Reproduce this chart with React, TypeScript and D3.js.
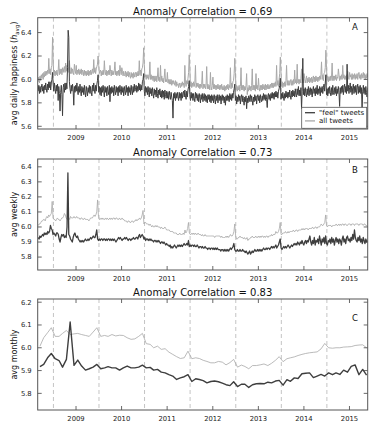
import React from "react";
import * as d3 from "d3";

// ---------------- DATA ----------------
// daily series, one value every 5 days starting 2008-09-01
const dailyFeel = [
  5.90,5.95,5.88,5.94,5.89,5.93, 5.96,5.90,5.94,5.88,5.95,5.91, 5.97,5.92,5.89,5.96,5.91,5.98, 5.93,5.98,5.91,5.97,6.00,6.06,
  5.96,5.90,5.97,5.92,5.88,5.95, 5.90,5.96,5.82,5.94,5.88,5.73, 5.89,5.95,5.87,5.69,5.93,5.96, 5.89,5.97,5.91,5.97,5.92,6.10,
  6.42,6.36,5.98,5.92,5.88,5.95, 5.90,5.96,5.91,5.78,5.94,5.89, 5.95,5.90,5.97,5.91,5.87,5.94, 5.89,5.96,5.90,5.86,5.94,5.89,
  5.93,5.87,5.95,5.89,5.85,5.94, 5.90,5.86,5.93,5.89,5.95,5.88, 5.94,5.89,5.86,5.95,5.90,5.97, 5.91,5.88,5.95,5.90,5.96,5.99,6.04,
  5.89,5.94,5.87,5.93,5.86,5.94, 5.89,5.95,5.90,5.85,5.94,5.89, 5.93,5.86,5.94,5.90,5.87,5.95, 5.81,5.93,5.88,5.94,5.89,5.93,
  5.86,5.95,5.90,5.87,5.94,5.89, 5.93,5.86,5.94,5.89,5.95,5.90, 5.87,5.94,5.89,5.93,5.86,5.94, 5.90,5.87,5.95,5.89,5.93,5.86,
  5.94,5.89,5.93,5.87,5.95,5.90, 5.87,5.94,5.89,5.96,5.90,5.93, 5.95,5.89,5.94,5.90,5.97,5.91, 5.96,5.90,5.95,5.91,5.98,6.00,6.05,
  5.90,5.86,5.94,5.89,5.93,5.87, 5.94,5.89,5.85,5.93,5.88,5.92, 5.86,5.93,5.88,5.84,5.92,5.87, 5.91,5.85,5.93,5.88,5.84,5.91,
  5.87,5.92,5.85,5.90,5.84,5.91, 5.85,5.90,5.83,5.91,5.87,5.84, 5.90,5.84,5.89,5.83,5.90,5.86, 5.83,5.89,5.85,5.82,5.67,5.88,
  5.84,5.89,5.82,5.88,5.84,5.89, 5.85,5.82,5.89,5.84,5.88,5.82, 5.89,5.84,5.88,5.90,5.85,5.91, 5.86,5.83,5.90,5.85,5.91,5.94,5.99,
  5.87,5.82,5.89,5.84,5.88,5.82, 5.88,5.84,5.81,5.89,5.84,5.88, 5.82,5.87,5.81,5.88,5.84,5.80, 5.87,5.83,5.88,5.81,5.85,5.88,
  5.82,5.87,5.81,5.86,5.80,5.87, 5.83,5.87,5.81,5.86,5.80,5.87, 5.82,5.86,5.80,5.87,5.83,5.79, 5.86,5.82,5.87,5.80,5.84,5.87,
  5.82,5.86,5.79,5.85,5.87,5.82, 5.86,5.80,5.85,5.78,5.86,5.82, 5.87,5.82,5.86,5.81,5.88,5.83, 5.87,5.82,5.88,5.84,5.89,5.92,5.96,
  5.82,5.86,5.79,5.85,5.81,5.87, 5.82,5.86,5.79,5.85,5.87,5.81, 5.86,5.82,5.78,5.85,5.81,5.86, 5.75,5.84,5.80,5.86,5.81,5.85,
  5.87,5.81,5.86,5.82,5.78,5.85, 5.81,5.87,5.82,5.86,5.79,5.85, 5.87,5.82,5.86,5.80,5.87,5.83, 5.81,5.86,5.82,5.88,5.83,5.87,
  5.82,5.87,5.83,5.76,5.86,5.88, 5.83,5.87,5.82,5.88,5.84,5.89, 5.84,5.88,5.83,5.89,5.85,5.90, 5.85,5.89,5.84,5.90,5.92,5.95,6.01,
  5.83,5.88,5.84,5.89,5.85,5.82, 5.88,5.84,5.90,5.85,5.89,5.84, 5.89,5.85,5.91,5.86,5.83,5.90, 5.85,5.91,5.86,5.90,5.85,5.92,
  5.87,5.85,5.92,5.87,5.94,5.86, 5.91,5.86,5.93,5.75,5.90,6.18, 5.87,5.92,5.86,5.93,5.88,5.85, 5.92,5.87,5.94,5.86,5.91,5.93,
  5.87,5.92,5.85,5.91,5.94,5.88, 5.92,5.86,5.93,5.88,5.95,5.87, 5.92,5.88,5.94,5.86,5.93,5.89, 5.94,5.88,5.93,5.96,5.90,5.97,6.04,
  5.87,5.92,5.86,5.93,5.88,5.94, 5.89,5.86,5.93,5.87,5.95,5.89, 5.87,5.93,5.88,5.94,5.86,5.92, 5.88,5.94,5.89,5.77,5.93,5.88,
  5.94,5.89,5.95,5.87,5.93,5.96, 5.89,5.94,5.88,6.13,5.90,5.95, 5.88,5.93,5.97,5.89,5.94,5.87, 5.93,5.96,5.88,5.94,5.89,5.95,
  5.87,5.93,5.96,5.88,5.94,5.89, 5.95,5.88,5.93,5.75,5.90,5.95, 5.88,5.93,5.87,5.94,5.89,5.85,5.93,
];
const dailyAll = [
  5.98,6.02,5.97,6.03,5.99,6.04, 6.01,6.05,6.00,6.06,6.02,6.07, 6.03,6.07,6.04,6.08,6.05,6.18, 6.05,6.09,6.04,6.10,6.12,6.36,
  6.15,6.04,6.08,6.03,6.07,6.04, 6.08,6.03,6.07,6.17,6.04,6.09, 6.05,6.09,6.04,6.10,6.06,6.09, 6.11,6.06,6.14,6.07,6.12,6.08,
  6.06,6.11,6.16,6.07,6.05,6.10, 6.05,6.09,6.06,6.04,6.13,6.08, 6.05,6.12,6.04,6.08,6.05,6.09, 6.04,6.08,6.05,6.09,6.04,6.08,
  6.07,6.03,6.08,6.04,6.07,6.03, 6.07,6.04,6.08,6.03,6.07,6.04, 6.08,6.04,6.07,6.09,6.05,6.17, 6.06,6.10,6.05,6.09,6.11,6.13,6.20,
  6.12,6.05,6.07,6.08,6.03,6.07, 6.04,6.08,6.04,6.16,6.07,6.04, 6.08,6.03,6.07,6.04,6.08,6.04, 6.12,6.07,6.03,6.08,6.04,6.07,
  6.04,6.08,6.15,6.04,6.07,6.03, 6.07,6.04,6.08,6.03,6.12,6.07, 6.04,6.10,6.07,6.03,6.07,6.04, 6.03,6.07,6.02,6.06,6.03,6.07,
  6.02,6.06,6.03,6.01,6.06,6.02, 6.05,6.01,6.06,6.02,6.05,6.06, 6.02,6.06,6.03,6.07,6.03,6.16, 6.04,6.08,6.03,6.09,6.10,6.14,6.27,
  6.13,6.02,6.04,6.00,6.04,6.01, 6.04,6.00,6.03,6.15,6.00,6.04, 6.00,6.03,5.99,6.03,5.98,6.03, 5.99,6.03,5.98,6.02,6.10,5.99,
  6.02,5.98,6.12,5.99,6.03,5.98, 6.01,5.97,6.02,6.09,5.98,6.00, 5.98,6.06,5.97,6.00,5.96,6.00, 5.96,6.00,5.95,5.99,5.96,5.99,
  5.97,5.95,5.99,5.94,5.98,5.95, 5.96,5.93,5.97,5.95,5.93,5.97, 5.94,5.98,5.95,5.97,5.93,6.12, 5.97,5.94,5.99,5.96,6.01,6.06,6.21,
  6.08,5.94,5.98,5.93,5.97,5.94, 5.98,5.94,5.97,6.12,5.93,5.97, 5.94,5.97,5.93,5.96,5.92,5.96, 5.93,5.96,6.07,5.92,5.96,5.93,
  5.96,5.92,5.95,6.11,5.92,5.96, 5.92,5.95,5.91,6.06,5.94,5.91, 5.95,6.02,5.92,5.96,5.92,5.95, 5.91,5.95,5.92,5.96,5.92,5.95,
  5.91,5.95,5.92,5.96,5.91,5.94, 5.91,5.95,5.90,5.94,5.91,5.95, 5.92,5.96,5.91,5.95,5.93,6.10, 5.92,5.97,5.93,5.98,5.99,6.05,6.18,
  6.06,5.91,5.95,5.90,5.94,5.91, 5.95,5.90,5.94,6.10,5.91,5.95, 5.91,5.95,5.90,5.94,5.91,5.95, 6.05,5.87,5.93,5.90,5.95,5.91,
  5.94,5.90,5.95,6.09,5.91,5.95, 5.91,5.95,5.90,6.05,5.92,5.95, 5.91,6.01,5.93,5.90,5.95,5.91, 5.95,5.91,5.96,5.92,5.95,5.91,
  5.96,5.91,5.95,5.92,5.96,5.92, 5.95,5.92,5.96,5.93,5.97,5.93, 5.97,5.93,5.97,5.94,5.98,5.94, 6.12,5.95,5.99,5.94,6.00,6.05,6.19,
  6.07,5.94,5.98,5.93,5.97,5.94, 5.98,5.94,5.99,6.12,5.95,5.99, 5.95,5.99,5.95,5.98,6.00,5.95, 5.99,5.95,6.00,5.96,6.08,5.97,
  6.00,5.96,6.13,5.97,6.00,5.96, 6.00,5.97,6.01,6.09,5.97,6.00, 5.97,6.05,6.01,5.97,6.00,6.03, 5.97,6.01,5.98,6.02,5.97,6.01,
  5.98,6.02,5.97,6.01,6.03,5.98, 6.02,5.98,6.03,5.99,6.02,5.98, 6.02,5.99,6.03,6.00,6.04,6.15, 6.00,6.04,5.99,6.05,6.06,6.10,6.25,
  6.10,5.99,6.03,5.98,6.02,5.99, 6.03,5.99,6.02,6.14,5.99,6.03, 5.99,6.03,6.00,6.04,5.99,6.02, 6.01,6.09,6.04,5.99,6.03,6.00,
  6.04,6.00,6.12,6.01,6.04,6.00, 6.03,6.00,6.04,5.99,6.07,6.02, 6.00,6.06,6.02,6.04,6.00,6.05, 6.00,6.04,6.01,6.05,6.00,6.04,
  6.01,6.05,6.00,6.04,6.06,6.01, 6.04,6.00,6.05,6.01,6.04,6.06, 6.01,6.05,6.00,6.04,6.01,6.05,6.02,
];
// weekly series, starting 2008-09-01
const weeklyFeel = [
  5.93,5.92,5.94,5.93, 5.94,5.95,5.94,5.96,5.95, 5.96,5.95,5.97,5.96, 5.97,6.01,5.99,5.98,
  5.95,5.96,5.95,5.94,5.96, 5.96,5.95,5.92,5.90, 5.93,5.95,5.94,5.95, 5.93,5.94,5.93,6.00,6.36, 5.95,5.94,5.92,5.91,
  5.90,5.93,5.95,5.96, 5.94,5.93,5.94,5.92,5.91, 5.90,5.91,5.90,5.91, 5.90,5.91,5.92,5.91, 5.91,5.92,5.91,5.92,5.93,
  5.92,5.93,5.94,5.93, 5.93,5.95,5.98,5.92,
  5.91,5.92,5.91,5.92,5.92, 5.91,5.92,5.92,5.91, 5.92,5.91,5.92,5.92, 5.91,5.92,5.91,5.92,5.91, 5.92,5.91,5.90,5.91,
  5.92,5.93,5.92,5.93, 5.92,5.91,5.92,5.92,5.93, 5.92,5.93,5.92,5.91, 5.92,5.92,5.91,5.92, 5.92,5.93,5.92,5.92,5.93,
  5.93,5.92,5.94,5.95, 5.93,5.94,5.95,5.94,
  5.92,5.93,5.91,5.92,5.92, 5.91,5.92,5.91,5.92, 5.91,5.91,5.90,5.91, 5.91,5.90,5.91,5.90,5.91, 5.90,5.89,5.90,5.90,
  5.89,5.90,5.89,5.88, 5.89,5.88,5.88,5.87,5.88, 5.86,5.87,5.86,5.87, 5.88,5.87,5.86,5.87, 5.88,5.87,5.88,5.87,5.88,
  5.87,5.88,5.89,5.88, 5.88,5.89,5.88,5.91,
  5.87,5.88,5.87,5.88,5.88, 5.87,5.88,5.87,5.87, 5.88,5.87,5.86,5.87, 5.87,5.86,5.87,5.86,5.86, 5.87,5.86,5.86,5.85,
  5.86,5.86,5.85,5.86, 5.86,5.85,5.86,5.85,5.86, 5.85,5.86,5.85,5.85, 5.85,5.84,5.85,5.85, 5.84,5.85,5.84,5.85,5.84,
  5.85,5.84,5.85,5.86, 5.85,5.86,5.87,5.89,5.85,
  5.84,5.84,5.85,5.84, 5.84,5.85,5.84,5.84, 5.85,5.84,5.84,5.83, 5.84,5.83,5.82,5.83,5.84, 5.82,5.83,5.84,5.83,
  5.84,5.85,5.84,5.84, 5.85,5.84,5.85,5.84,5.85, 5.84,5.85,5.86,5.85, 5.85,5.86,5.85,5.86, 5.86,5.85,5.86,5.87,5.86,
  5.87,5.86,5.87,5.88, 5.86,5.87,5.88,5.90,5.92,
  5.86,5.85,5.86,5.87, 5.86,5.87,5.86,5.87, 5.88,5.87,5.86,5.87, 5.88,5.87,5.88,5.89,5.88, 5.89,5.88,5.90,5.89,
  5.88,5.90,5.89,5.91, 5.89,5.88,5.90,5.91,5.89, 5.91,5.90,5.92,5.94, 5.90,5.88,5.91,5.89, 5.93,5.88,5.91,5.90,5.92,
  5.89,5.94,5.91,5.88, 5.92,5.90,5.93,5.89,5.94,
  5.89,5.88,5.91,5.90,5.92, 5.89,5.93,5.90,5.92, 5.88,5.91,5.93,5.90, 5.92,5.89,5.92,5.91,5.88, 5.92,5.94,5.90,5.92,
  5.89,5.93,5.94,5.91, 5.92,5.90,5.93,5.91,5.95, 5.92,5.98,5.93,5.91, 5.90,5.93,5.91,5.94, 5.90,5.92,5.89,5.93,5.91,
  5.89,5.92,5.90,5.91,
];
const weeklyAll = [
  6.01,6.02,6.02,6.03, 6.04,6.04,6.05,6.05,6.04, 6.06,6.07,6.06,6.08, 6.07,6.08,6.09,6.17,
  6.06,6.05,6.05,6.04,6.05, 6.06,6.05,6.05,6.04, 6.05,6.06,6.06,6.07, 6.09,6.08,6.06,6.05,6.05, 6.06,6.05,6.07,6.06,
  6.06,6.06,6.07,6.06, 6.06,6.07,6.06,6.06,6.06, 6.05,6.06,6.06,6.05, 6.05,6.06,6.05,6.05, 6.05,6.05,6.04,6.05,6.06,
  6.06,6.06,6.07,6.08, 6.07,6.08,6.10,6.18,
  6.07,6.05,6.05,6.06,6.05, 6.06,6.05,6.05,6.06, 6.05,6.06,6.05,6.05, 6.06,6.05,6.06,6.05,6.06, 6.06,6.05,6.06,6.06,
  6.05,6.05,6.06,6.05, 6.05,6.06,6.05,6.05,6.04, 6.04,6.04,6.03,6.04, 6.04,6.03,6.03,6.04, 6.04,6.03,6.04,6.04,6.05,
  6.04,6.05,6.05,6.06, 6.05,6.06,6.08,6.11,
  6.02,6.03,6.03,6.02,6.02, 6.02,6.01,6.02,6.01, 6.00,6.01,6.00,6.00, 6.01,6.00,6.01,6.00,6.00, 6.00,5.99,6.00,5.99,
  5.99,5.99,6.00,5.99, 5.98,5.98,5.98,5.98,5.97, 5.97,5.97,5.97,5.96, 5.96,5.96,5.96,5.95, 5.95,5.95,5.96,5.95,5.95,
  5.95,5.96,5.95,5.98, 5.96,5.97,5.99,6.03,
  5.96,5.95,5.95,5.96,5.95, 5.96,5.95,5.96,5.95, 5.95,5.96,5.95,5.95, 5.95,5.94,5.95,5.94,5.94, 5.95,5.94,5.94,5.94,
  5.94,5.94,5.94,5.94, 5.94,5.94,5.94,5.93,5.94, 5.94,5.94,5.94,5.94, 5.94,5.93,5.94,5.93, 5.93,5.93,5.93,5.94,5.93,
  5.94,5.93,5.94,5.95, 5.94,5.94,5.95,5.97,6.02,
  5.94,5.92,5.92,5.93, 5.93,5.94,5.93,5.93, 5.93,5.92,5.93,5.92, 5.92,5.93,5.91,5.92,5.92, 5.93,5.93,5.94,5.93,
  5.93,5.93,5.94,5.93, 5.93,5.94,5.93,5.94,5.93, 5.94,5.94,5.93,5.94, 5.93,5.94,5.94,5.93, 5.94,5.94,5.94,5.95,5.94,
  5.95,5.95,5.95,5.97, 5.96,5.96,5.97,5.99,6.03,
  5.95,5.95,5.96,5.96, 5.96,5.97,5.96,5.96, 5.97,5.96,5.97,5.97, 5.97,5.97,5.98,5.97,5.97, 5.98,5.98,5.97,5.98,
  5.98,5.98,5.98,5.99, 5.98,5.99,5.98,5.99,5.99, 5.99,5.98,5.99,5.99, 5.99,5.99,6.00,5.99, 5.99,6.00,6.00,5.99,6.00,
  6.00,6.00,6.01,6.02, 6.01,6.01,6.02,6.03,6.08,
  6.01,6.00,6.01,6.01,6.01, 6.01,6.00,6.01,6.01, 6.01,6.01,6.02,6.01, 6.01,6.02,6.01,6.02,6.01, 6.02,6.02,6.01,6.02,
  6.02,6.01,6.01,6.02, 6.02,6.02,6.01,6.02,6.02, 6.02,6.01,6.02,6.02, 6.02,6.02,6.01,6.02, 6.02,6.02,6.02,6.01,6.02,
  6.02,6.01,6.01,6.00,
];
// monthly series, Sep 2008 .. Nov 2015
const monthlyFeel = [
  5.917,5.927,5.956,5.975,
  5.952,5.944,5.915,5.949,6.113,5.923,5.946,5.920,5.902,5.908,5.915,5.927,
  5.908,5.912,5.917,5.912,5.912,5.902,5.912,5.920,5.912,5.912,5.915,5.924,
  5.912,5.914,5.902,5.905,5.893,5.890,5.882,5.876,5.861,5.868,5.873,5.882,
  5.852,5.864,5.861,5.856,5.846,5.852,5.854,5.851,5.845,5.838,5.834,5.851,
  5.830,5.840,5.840,5.826,5.838,5.842,5.843,5.842,5.849,5.846,5.854,5.857,
  5.836,5.860,5.853,5.868,5.865,5.886,5.888,5.890,5.869,5.876,5.883,5.876,
  5.890,5.882,5.890,5.883,5.902,5.893,5.918,5.925,5.882,5.905,5.880,
];
const monthlyAll = [
  6.007,6.044,6.066,6.088,
  6.050,6.050,6.063,6.076,6.058,6.061,6.063,6.058,6.054,6.050,6.069,6.088,
  6.050,6.054,6.050,6.058,6.052,6.055,6.054,6.044,6.037,6.039,6.050,6.063,
  6.018,6.015,6.000,6.007,5.993,5.996,5.981,5.971,5.961,5.953,5.956,5.985,
  5.952,5.956,5.953,5.945,5.940,5.934,5.934,5.940,5.937,5.925,5.935,5.949,
  5.915,5.924,5.918,5.908,5.922,5.922,5.925,5.929,5.922,5.932,5.945,5.961,
  5.939,5.952,5.956,5.960,5.966,5.971,5.975,5.978,5.980,5.982,5.995,6.019,
  6.000,5.998,6.000,6.000,6.003,6.004,6.005,6.010,6.012,6.013,6.000,
];

const yearLabels = [2009, 2010, 2011, 2012, 2013, 2014, 2015];
const dividerYears = [2009, 2010, 2011, 2012, 2013, 2014, 2015];
const correlations = ["0.69", "0.73", "0.83"];
const ticksDaily = [5.6, 5.8, 6.0, 6.2, 6.4];
const ticksWeekly = [5.8, 5.9, 6.0, 6.1, 6.2, 6.3, 6.4];
const ticksMonthly = [5.8, 5.9, 6.0, 6.1, 6.2];
const seriesNames = ['"feel" tweets', "all tweets"];

// ---------------- LAYOUT ----------------
const W = 378, H = 430;
const L = 37.7, R = 367.7;
const FEEL = "#3e3e3e";
const ALL = "#a8a8a8";
const FONT = "DejaVu Sans";
const TICK_FS = 6.8;

const x = d3.scaleTime().domain([new Date(2008, 7, 28), new Date(2015, 10, 24)]).range([L, R]);

const dailyDates = dailyFeel.map((_, k) => new Date(2008, 8, 1 + 5 * k));
const weeklyDates = weeklyFeel.map((_, k) => new Date(2008, 8, 1 + 7 * k));
const monthlyDates = monthlyFeel.map((_, k) => new Date(2008, 8 + k, 15));

type Panel = {
  id: string; top: number; bottom: number; dom: [number, number]; ticks: number[];
  feel: number[]; all: number[]; dates: Date[]; wFeel: number; wAll: number;
  title: string; letterY: number; titleY: number;
};

const panels: Panel[] = [
  { id: "A", top: 17.7, bottom: 129, dom: [5.577, 6.527], ticks: ticksDaily, feel: dailyFeel, all: dailyAll, dates: dailyDates, wFeel: 1.0, wAll: 1.0, title: correlations[0], letterY: 30, titleY: 15 },
  { id: "B", top: 159, bottom: 270, dom: [5.714, 6.452], ticks: ticksWeekly, feel: weeklyFeel, all: weeklyAll, dates: weeklyDates, wFeel: 1.3, wAll: 0.8, title: correlations[1], letterY: 173.3, titleY: 156 },
  { id: "C", top: 299, bottom: 410, dom: [5.727, 6.214], ticks: ticksMonthly, feel: monthlyFeel, all: monthlyAll, dates: monthlyDates, wFeel: 1.4, wAll: 0.8, title: correlations[2], letterY: 320.7, titleY: 296 },
];

function PanelView({ p }: { p: Panel }) {
  const y = d3.scaleLinear().domain(p.dom).range([p.bottom, p.top]);
  const line = (vals: number[]) =>
    d3.line<number>().x((_, i) => x(p.dates[i])).y((d) => y(d))(vals) || "";
  const clipId = "clip" + p.id;
  const midY = (p.top + p.bottom) / 2;
  return (
    <g>
      <defs>
        <clipPath id={clipId}>
          <rect x={L} y={p.top} width={R - L} height={p.bottom - p.top} />
        </clipPath>
      </defs>
      <rect x={L} y={p.top} width={R - L} height={p.bottom - p.top} fill="#fff" />
      {dividerYears.map((yr) => {
        const xx = x(new Date(yr, 0, 1));
        return <line key={yr} x1={xx} x2={xx} y1={p.top} y2={p.bottom} stroke="#c4c4c4" strokeWidth={1} strokeDasharray="4,3" />;
      })}
      <g clipPath={`url(#${clipId})`}>
        <path d={line(p.all)} fill="none" stroke={ALL} strokeWidth={p.wAll} strokeLinejoin="round" />
        <path d={line(p.feel)} fill="none" stroke={FEEL} strokeWidth={p.wFeel} strokeLinejoin="round" />
      </g>
      {p.ticks.map((t) => {
        const yy = y(t);
        return (
          <g key={t}>
            <line x1={L} x2={L + 4} y1={yy} y2={yy} stroke="#444" strokeWidth={0.8} />
            <line x1={R - 4} x2={R} y1={yy} y2={yy} stroke="#444" strokeWidth={0.8} />
            <text x={L - 6} y={yy} dy="0.35em" textAnchor="end" fontSize={TICK_FS} fill="#222">{d3.format(".1f")(t)}</text>
          </g>
        );
      })}
      {yearLabels.map((yr) => {
        const xx = x(new Date(yr, 6, 1));
        return (
          <g key={yr}>
            <line x1={xx} x2={xx} y1={p.bottom} y2={p.bottom - 4} stroke="#444" strokeWidth={0.8} />
            <line x1={xx} x2={xx} y1={p.top} y2={p.top + 4} stroke="#444" strokeWidth={0.8} />
            <text x={xx} y={p.bottom + 10.5} textAnchor="middle" fontSize={TICK_FS} fill="#222">{String(yr)}</text>
          </g>
        );
      })}
      <rect x={L} y={p.top} width={R - L} height={p.bottom - p.top} fill="none" stroke="#555" strokeWidth={1} />
      <text x={(L + R) / 2} y={p.titleY} textAnchor="middle" fontSize={10} fill="#111">{"Anomaly Correlation = " + p.title}</text>
      <text x={355} y={p.letterY} textAnchor="middle" fontSize={8.5} fill="#111">{p.id}</text>
      {p.id === "A" ? (
        <text transform={`translate(16.5,${midY}) rotate(-90)`} textAnchor="middle" fontSize={8} fill="#111">
          avg daily happiness (<tspan fontStyle="italic">h</tspan><tspan dy={2} fontSize={5.5}>avg</tspan><tspan dy={-2}>)</tspan>
        </text>
      ) : (
        <text transform={`translate(16.5,${midY}) rotate(-90)`} textAnchor="middle" fontSize={8} fill="#111">
          {p.id === "B" ? "avg weekly" : "avg monthly"}
        </text>
      )}
      {p.id === "A" && (
        <g>
          <rect x={301.7} y={107.3} width={65} height={21} fill="#fff" stroke="#555" strokeWidth={0.8} />
          <line x1={305} x2={315} y1={112.7} y2={112.7} stroke={FEEL} strokeWidth={1.3} />
          <line x1={305} x2={315} y1={120.9} y2={120.9} stroke={ALL} strokeWidth={1.3} />
          <text x={319} y={115.2} fontSize={7} fill="#111">{seriesNames[0]}</text>
          <text x={319} y={123.4} fontSize={7} fill="#111">{seriesNames[1]}</text>
        </g>
      )}
    </g>
  );
}

export default function App() {
  return (
    <svg width={W} height={H} viewBox={`0 0 ${W} ${H}`} fontFamily={FONT}
      style={{ position: "absolute", left: 0, top: 0, display: "block", background: "#fff" }}>
      <rect x={0} y={0} width={W} height={H} fill="#fff" />
      {panels.map((p) => <PanelView key={p.id} p={p} />)}
    </svg>
  );
}
